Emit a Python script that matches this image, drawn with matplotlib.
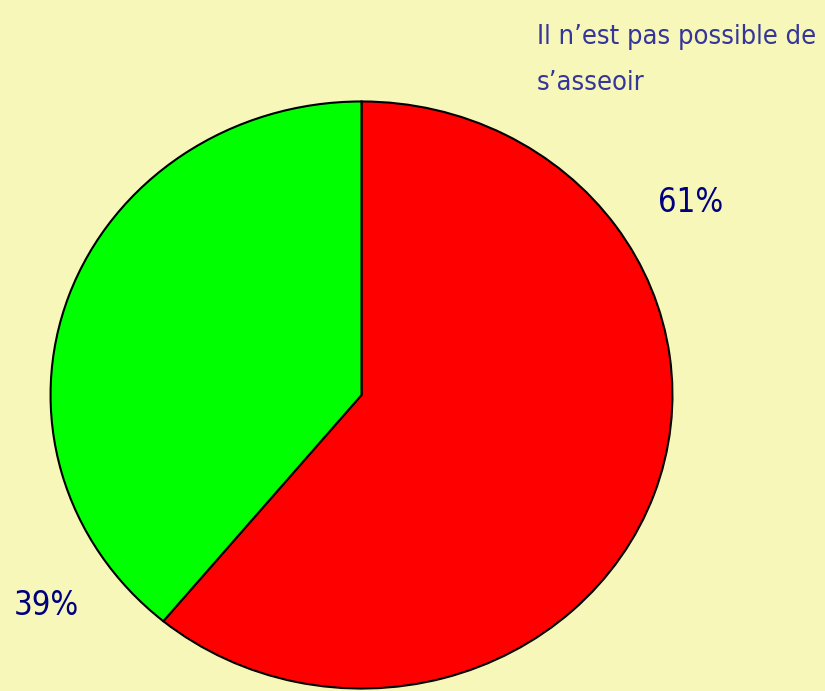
import matplotlib.pyplot as plt
import numpy as np

# données
labels = ["Il n’est pas possible de\ns’asseoir", ""]
values = [61, 39]
pct_labels = ["61%", "39%"]
colors = ["#FF0000", "#00FF00"]

W, H = 825, 691
fig = plt.figure(figsize=(W / 100, H / 100), dpi=100)
fig.patch.set_facecolor("#F6F7B9")

# le camembert est un peu plus large que haut
ax = fig.add_axes([49 / W, 1 / H, 625 / W, 590 / H])
ax.pie(values, colors=colors, startangle=90, counterclock=False,
       wedgeprops=dict(edgecolor="black", linewidth=1.5))
ax.set_aspect("auto")
ax.set_xlim(-1.005, 1.005)
ax.set_ylim(-1.005, 1.005)
ax.axis("off")

font = dict(family="DejaVu Sans", fontstretch="condensed")

fig.text(537 / W, 1 - 44 / H, labels[0].split("\n")[0], fontsize=19.5,
         color="#35359A", va="baseline", ha="left", **font)
fig.text(537 / W, 1 - 90 / H, labels[0].split("\n")[1], fontsize=19.5,
         color="#35359A", va="baseline", ha="left", **font)
fig.text(658 / W, 1 - 212 / H, pct_labels[0], fontsize=23.5,
         color="#00007F", va="baseline", ha="left", **font)
fig.text(14 / W, 1 - 615 / H, pct_labels[1], fontsize=23.5,
         color="#00007F", va="baseline", ha="left", **font)

fig.savefig("out.png", dpi=100, facecolor=fig.get_facecolor())
